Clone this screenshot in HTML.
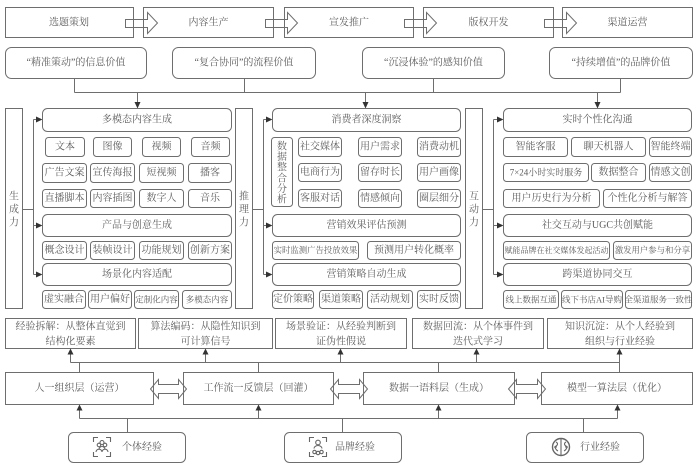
<!DOCTYPE html>
<html><head><meta charset="utf-8">
<style>
html,body{margin:0;padding:0;background:#fff;width:700px;height:468px;overflow:hidden}
svg{display:block}
text{font-family:"Liberation Serif","Noto Serif CJK SC",serif;fill:#5c5c5c;font-size:10px;text-anchor:middle;dominant-baseline:central}
.b{fill:none;stroke:#6e6e6e;stroke-width:1}
.l{fill:none;stroke:#6e6e6e;stroke-width:1}
.w{fill:#fff;stroke:#6e6e6e;stroke-width:1}
.a{fill:#333;stroke:none}
.ic{fill:none;stroke:#666;stroke-width:1.1}
.s{text-anchor:start}
</style></head><body>
<svg width="700" height="468" viewBox="0 0 700 468" xmlns="http://www.w3.org/2000/svg">
<!-- top process arrows -->
<polygon class="w" points="125.5,19.5 147.5,19.5 147.5,12.5 157.5,23 147.5,33.5 147.5,27.5 125.5,27.5"/>
<polygon class="w" points="265.5,19.5 287.5,19.5 287.5,12.5 297.5,23 287.5,33.5 287.5,27.5 265.5,27.5"/>
<polygon class="w" points="404.5,19.5 426.5,19.5 426.5,12.5 436.5,23 426.5,33.5 426.5,27.5 404.5,27.5"/>
<polygon class="w" points="544.5,19.5 566.5,19.5 566.5,12.5 576.5,23 566.5,33.5 566.5,27.5 544.5,27.5"/>
<!-- top process boxes -->
<rect class="b" x="5.5" y="7.5" width="128" height="30"/>
<rect class="b" x="143.5" y="7.5" width="130" height="30"/>
<rect class="b" x="284.5" y="7.5" width="129" height="30"/>
<rect class="b" x="423.5" y="7.5" width="130" height="30"/>
<rect class="b" x="562.5" y="7.5" width="130" height="30"/>
<g style="font-size:10.5px">
<text x="69" y="23">选题策划</text>
<text x="208.5" y="23">内容生产</text>
<text x="349" y="23">宣发推广</text>
<text x="488.5" y="23">版权开发</text>
<text x="627.5" y="23">渠道运营</text>
</g>
<!-- value boxes -->
<rect class="b" x="5.5" y="47.5" width="141" height="31" rx="6"/>
<rect class="b" x="172.5" y="47.5" width="143" height="31" rx="6"/>
<rect class="b" x="362.5" y="47.5" width="142" height="31" rx="6"/>
<rect class="b" x="549.5" y="47.5" width="143" height="31" rx="6"/>
<g style="font-size:10.5px">
<text x="76" y="63">“精准策动”的信息价值</text>
<text x="244" y="63">“复合协同”的流程价值</text>
<text x="433.5" y="63">“沉浸体验”的感知价值</text>
<text x="621" y="63">“持续增值”的品牌价值</text>
</g>
<path class="l" d="M74.5 78.5V92.5M244.5 78.5V92.5M433.5 78.5V92.5M620.5 78.5V92.5M74.5 92.5H620.5M137.5 92.5V102M365.5 92.5V102M597.5 92.5V102"/>
<polygon class="a" points="134.5,102 140.5,102 137.5,108.5"/>
<polygon class="a" points="362.5,102 368.5,102 365.5,108.5"/>
<polygon class="a" points="594.5,102 600.5,102 597.5,108.5"/>

<!-- side boxes -->
<rect class="b" x="5.5" y="108.5" width="17" height="200"/>
<rect class="b" x="235.5" y="108.5" width="17" height="200"/>
<rect class="b" x="465.5" y="108.5" width="17" height="200"/>
<g style="font-size:12px">
<text x="14" y="197">生</text><text x="14" y="210">成</text><text x="14" y="223">力</text>
<text x="244" y="197">推</text><text x="244" y="210">理</text><text x="244" y="223">力</text>
<text x="474" y="197">互</text><text x="474" y="210">动</text><text x="474" y="223">力</text>
</g>
<!-- side connectors -->
<path class="l" d="M33.5 119.5V274.5M22.5 209.5H33.5M33.5 119.5H36M33.5 225.5H36M33.5 274.5H36"/>
<path class="l" d="M263.5 119.5V274.5M252.5 209.5H263.5M263.5 119.5H266M263.5 225.5H266M263.5 274.5H266"/>
<path class="l" d="M493.5 119.5V274.5M482.5 209.5H493.5M493.5 119.5H497M493.5 225.5H497M493.5 274.5H497"/>
<polygon class="a" points="36,116.5 42.5,119.5 36,122.5"/>
<polygon class="a" points="36,222.5 42.5,225.5 36,228.5"/>
<polygon class="a" points="36,271.5 42.5,274.5 36,277.5"/>
<polygon class="a" points="266,116.5 272.5,119.5 266,122.5"/>
<polygon class="a" points="266,222.5 272.5,225.5 266,228.5"/>
<polygon class="a" points="266,271.5 272.5,274.5 266,277.5"/>
<polygon class="a" points="497,116.5 503.5,119.5 497,122.5"/>
<polygon class="a" points="497,222.5 503.5,225.5 497,228.5"/>
<polygon class="a" points="497,271.5 503.5,274.5 497,277.5"/>

<!-- headers -->
<rect class="b" x="42.5" y="108.5" width="189" height="23" rx="5"/>
<rect class="b" x="42.5" y="214.5" width="189" height="22" rx="5"/>
<rect class="b" x="42.5" y="263.5" width="189" height="22" rx="5"/>
<rect class="b" x="272.5" y="108.5" width="188" height="23" rx="5"/>
<rect class="b" x="272.5" y="214.5" width="188" height="22" rx="5"/>
<rect class="b" x="272.5" y="263.5" width="188" height="22" rx="5"/>
<rect class="b" x="503.5" y="108.5" width="188" height="23" rx="5"/>
<rect class="b" x="503.5" y="214.5" width="188" height="22" rx="5"/>
<rect class="b" x="503.5" y="263.5" width="188" height="22" rx="5"/>
<g style="font-size:11px">
<text x="137" y="120">多模态内容生成</text>
<text x="137" y="225.5">产品与创意生成</text>
<text x="137" y="274.5">场景化内容适配</text>
<text x="366.5" y="120">消费者深度洞察</text>
<text x="366.5" y="225.5">营销效果评估预测</text>
<text x="366.5" y="274.5">营销策略自动生成</text>
<text x="597.5" y="120">实时个性化沟通</text>
<text x="597.5" y="225.5">社交互动与UGC共创赋能</text>
<text x="597.5" y="274.5">跨渠道协同交互</text>
</g>

<!-- panel 1 small boxes -->
<g>
<rect class="b" x="45.5" y="137.5" width="39" height="19" rx="3"/>
<rect class="b" x="93.5" y="137.5" width="38" height="19" rx="3"/>
<rect class="b" x="142.5" y="137.5" width="38" height="19" rx="3"/>
<rect class="b" x="191.5" y="137.5" width="38" height="19" rx="3"/>
<rect class="b" x="42.5" y="163.5" width="44" height="19" rx="3"/>
<rect class="b" x="90.5" y="163.5" width="44" height="19" rx="3"/>
<rect class="b" x="139.5" y="163.5" width="44" height="19" rx="3"/>
<rect class="b" x="188.5" y="163.5" width="43" height="19" rx="3"/>
<rect class="b" x="42.5" y="189.5" width="44" height="18" rx="3"/>
<rect class="b" x="90.5" y="189.5" width="44" height="18" rx="3"/>
<rect class="b" x="139.5" y="189.5" width="44" height="18" rx="3"/>
<rect class="b" x="188.5" y="189.5" width="43" height="18" rx="3"/>
<rect class="b" x="42.5" y="241.5" width="44" height="18" rx="3"/>
<rect class="b" x="90.5" y="241.5" width="44" height="18" rx="3"/>
<rect class="b" x="139.5" y="241.5" width="44" height="18" rx="3"/>
<rect class="b" x="188.5" y="241.5" width="43" height="18" rx="3"/>
<rect class="b" x="42.5" y="290.5" width="43" height="18" rx="3"/>
<rect class="b" x="88.5" y="290.5" width="43" height="18" rx="3"/>
<rect class="b" x="134.5" y="290.5" width="44" height="18" rx="3"/>
<rect class="b" x="182.5" y="290.5" width="49" height="18" rx="3"/>
</g>
<g style="font-size:10.5px">
<text x="65" y="147">文本</text>
<text x="112.5" y="147">图像</text>
<text x="161.5" y="147">视频</text>
<text x="210.5" y="147">音频</text>
</g>
<text x="64.5" y="173">广告文案</text>
<text x="112.5" y="173">宣传海报</text>
<text x="161.5" y="173">短视频</text>
<text x="210" y="173">播客</text>
<text x="64.5" y="198.5">直播脚本</text>
<text x="112.5" y="198.5">内容插图</text>
<text x="161.5" y="198.5">数字人</text>
<text x="210" y="198.5">音乐</text>
<text x="64.5" y="250.5">概念设计</text>
<text x="112.5" y="250.5">装帧设计</text>
<text x="161.5" y="250.5">功能规划</text>
<text x="210" y="250.5">创新方案</text>
<text x="64" y="299.5">虚实融合</text>
<text x="110" y="299.5">用户偏好</text>
<text x="156.5" y="299.5" style="font-size:8.5px">定制化内容</text>
<text x="207" y="299.5" style="font-size:8.5px">多模态内容</text>

<!-- panel 2 -->
<rect class="b" x="271.5" y="137.5" width="21" height="69" rx="3"/>
<g style="font-size:11px">
<text x="282" y="147">数</text><text x="282" y="157.6">据</text><text x="282" y="168.2">整</text>
<text x="282" y="178.8">合</text><text x="282" y="189.4">分</text><text x="282" y="200">析</text>
</g>
<rect class="b" x="298.5" y="137.5" width="43" height="19" rx="3"/>
<rect class="b" x="358.5" y="137.5" width="43" height="19" rx="3"/>
<rect class="b" x="417.5" y="137.5" width="43" height="19" rx="3"/>
<rect class="b" x="298.5" y="163.5" width="43" height="18" rx="3"/>
<rect class="b" x="358.5" y="163.5" width="43" height="18" rx="3"/>
<rect class="b" x="417.5" y="163.5" width="43" height="18" rx="3"/>
<rect class="b" x="298.5" y="189.5" width="43" height="18" rx="3"/>
<rect class="b" x="358.5" y="189.5" width="43" height="18" rx="3"/>
<rect class="b" x="417.5" y="189.5" width="43" height="18" rx="3"/>
<text x="320" y="147">社交媒体</text>
<text x="380" y="147">用户需求</text>
<text x="439" y="147">消费动机</text>
<text x="320" y="172.5">电商行为</text>
<text x="380" y="172.5">留存时长</text>
<text x="439" y="172.5">用户画像</text>
<text x="320" y="198.5">客服对话</text>
<text x="380" y="198.5">情感倾向</text>
<text x="439" y="198.5">圈层细分</text>
<rect class="b" x="272.5" y="241.5" width="86" height="18" rx="3"/>
<rect class="b" x="367.5" y="241.5" width="93" height="18" rx="3"/>
<text x="315.5" y="250.5" style="font-size:8.4px">实时监测广告投放效果</text>
<text x="414" y="250.5">预测用户转化概率</text>
<rect class="b" x="272.5" y="290.5" width="41" height="18" rx="3"/>
<rect class="b" x="319.5" y="290.5" width="43" height="18" rx="3"/>
<rect class="b" x="367.5" y="290.5" width="45" height="18" rx="3"/>
<rect class="b" x="417.5" y="290.5" width="43" height="18" rx="3"/>
<text x="293" y="299.5">定价策略</text>
<text x="341" y="299.5">渠道策略</text>
<text x="390" y="299.5">活动规划</text>
<text x="439" y="299.5">实时反馈</text>

<!-- panel 3 -->
<rect class="b" x="503.5" y="137.5" width="64" height="19" rx="3"/>
<rect class="b" x="571.5" y="137.5" width="74" height="19" rx="3"/>
<rect class="b" x="649.5" y="137.5" width="42" height="19" rx="3"/>
<text x="535.5" y="147">智能客服</text>
<text x="608.5" y="147">聊天机器人</text>
<text x="670.5" y="147">智能终端</text>
<rect class="b" x="503.5" y="163.5" width="85" height="18" rx="3"/>
<rect class="b" x="591.5" y="163.5" width="54" height="18" rx="3"/>
<rect class="b" x="649.5" y="163.5" width="42" height="18" rx="3"/>
<text x="546" y="172.5" style="font-size:9px">7×24小时实时服务</text>
<text x="618.5" y="172.5">数据整合</text>
<text x="670.5" y="172.5">情感文创</text>
<rect class="b" x="503.5" y="189.5" width="96" height="18" rx="3"/>
<rect class="b" x="603.5" y="189.5" width="88" height="18" rx="3"/>
<text x="551.5" y="198.5">用户历史行为分析</text>
<text x="647.5" y="198.5">个性化分析与解答</text>
<rect class="b" x="503.5" y="241.5" width="106" height="18" rx="3"/>
<rect class="b" x="613.5" y="241.5" width="78" height="18" rx="3"/>
<text x="556.5" y="250.5" style="font-size:8px">赋能品牌在社交媒体发起活动</text>
<text x="652.5" y="250.5" style="font-size:8.4px">激发用户参与和分享</text>
<rect class="b" x="503.5" y="290.5" width="55" height="18" rx="3"/>
<rect class="b" x="561.5" y="290.5" width="61" height="18" rx="3"/>
<rect class="b" x="625.5" y="290.5" width="66" height="18" rx="3"/>
<text x="531" y="299.5" style="font-size:8.5px">线上数据互通</text>
<text x="592" y="299.5" style="font-size:8.5px">线下书店AI导购</text>
<text x="658.5" y="299.5" style="font-size:8.5px">全渠道服务一致性</text>

<!-- bottom value boxes -->
<rect class="b" x="5.5" y="318.5" width="130" height="30"/>
<rect class="b" x="138.5" y="318.5" width="134" height="30"/>
<rect class="b" x="275.5" y="318.5" width="131" height="30"/>
<rect class="b" x="412.5" y="318.5" width="131" height="30"/>
<rect class="b" x="547.5" y="318.5" width="145" height="30"/>
<g style="font-size:10.5px">
<text x="70.5" y="327">经验拆解：从整体直觉到</text><text x="70.5" y="342">结构化要素</text>
<text x="205.5" y="327">算法编码：从隐性知识到</text><text x="205.5" y="342">可计算信号</text>
<text x="341" y="327">场景验证：从经验判断到</text><text x="341" y="342">证伪性假说</text>
<text x="478" y="327">数据回流：从个体事件到</text><text x="478" y="342">迭代式学习</text>
<text x="620" y="327">知识沉淀：从个人经验到</text><text x="620" y="342">组织与行业经验</text>
</g>
<path class="l" d="M70.5 362.5H619.5M70.5 362.5V354M205.5 362.5V354M340.5 362.5V354M476.5 362.5V354M619.5 372V354M79.5 362.5V372M258.5 362.5V372M438.5 362.5V372"/>
<polygon class="a" points="67.5,354.5 73.5,354.5 70.5,348.5"/>
<polygon class="a" points="202.5,354.5 208.5,354.5 205.5,348.5"/>
<polygon class="a" points="337.5,354.5 343.5,354.5 340.5,348.5"/>
<polygon class="a" points="473.5,354.5 479.5,354.5 476.5,348.5"/>
<polygon class="a" points="616.5,354.5 622.5,354.5 619.5,348.5"/>

<!-- double arrows -->
<polygon class="w" points="150.5,389 158.5,379.5 158.5,384.5 178.5,384.5 178.5,379.5 186.5,389 178.5,398.5 178.5,393.5 158.5,393.5 158.5,398.5"/>
<polygon class="w" points="330.5,389 338.5,379.5 338.5,384.5 359.5,384.5 359.5,379.5 367.5,389 359.5,398.5 359.5,393.5 338.5,393.5 338.5,398.5"/>
<polygon class="w" points="508.5,389 516.5,379.5 516.5,384.5 537.5,384.5 537.5,379.5 545.5,389 537.5,398.5 537.5,393.5 516.5,393.5 516.5,398.5"/>
<!-- layer boxes -->
<rect class="b" x="5.5" y="372.5" width="148" height="32"/>
<rect class="b" x="183.5" y="372.5" width="150" height="32"/>
<rect class="b" x="363.5" y="372.5" width="151" height="32"/>
<rect class="b" x="541.5" y="372.5" width="151" height="32"/>
<g style="font-size:10.5px">
<text x="79.5" y="388.5">人一组织层（运营）</text>
<text x="258.5" y="388.5">工作流一反馈层（回灌）</text>
<text x="439" y="388.5">数据一语料层（生成）</text>
<text x="617" y="388.5">模型一算法层（优化）</text>
</g>
<path class="l" d="M79.5 418.5H617.5M79.5 418.5V410M258.5 418.5V410M438.5 418.5V410M617.5 418.5V410M127.5 418.5V432M342.5 418.5V432M583.5 418.5V432"/>
<polygon class="a" points="76.5,410.5 82.5,410.5 79.5,404.5"/>
<polygon class="a" points="255.5,410.5 261.5,410.5 258.5,404.5"/>
<polygon class="a" points="435.5,410.5 441.5,410.5 438.5,404.5"/>
<polygon class="a" points="614.5,410.5 620.5,410.5 617.5,404.5"/>

<!-- experience boxes -->
<rect class="b" x="68.5" y="432.5" width="117" height="30" rx="5"/>
<rect class="b" x="284.5" y="432.5" width="117" height="30" rx="5"/>
<rect class="b" x="526.5" y="432.5" width="117" height="30" rx="5"/>
<g style="font-size:11px">
<text class="s" x="122" y="447.5">个体经验</text>
<text class="s" x="335" y="447.5">品牌经验</text>
<text class="s" x="580" y="447.5">行业经验</text>
</g>
<!-- icon 1 -->
<path class="ic" d="M93.5 442V437.5H98M106 437.5H110.5V442M110.5 452V456.5H106M98 456.5H93.5V452"/>
<circle class="ic" cx="99" cy="445" r="1.8"/><circle class="ic" cx="102" cy="442.5" r="2"/><circle class="ic" cx="105" cy="445" r="1.8"/>
<path class="ic" d="M96 452a3 2.8 0 0 1 6 0M99 449.5a3 3 0 0 1 6 0M102 452a3 2.8 0 0 1 6 0"/>
<!-- icon 2 -->
<path class="ic" d="M309.5 442V437.5H314M322 437.5H326.5V442M326.5 452V456.5H322M314 456.5H309.5V452"/>
<circle class="ic" cx="318" cy="442.5" r="2.3"/>
<path class="ic" d="M314 448.5a4 3 0 0 1 8 0"/>
<circle class="ic" cx="314.5" cy="452" r="1.7"/><circle class="ic" cx="318" cy="453" r="1.7"/><circle class="ic" cx="321.5" cy="452" r="1.7"/>
<!-- icon 3 -->
<circle class="ic" cx="561" cy="447" r="8.5" style="stroke-width:1.4"/>
<path class="ic" d="M561 439V455M556 442c2 1 2 3 0 4s0 4 2 5M566 442c-2 1 -2 3 0 4s0 4 -2 5M554 447h3M565 447h3"/>
</svg>
</body></html>
